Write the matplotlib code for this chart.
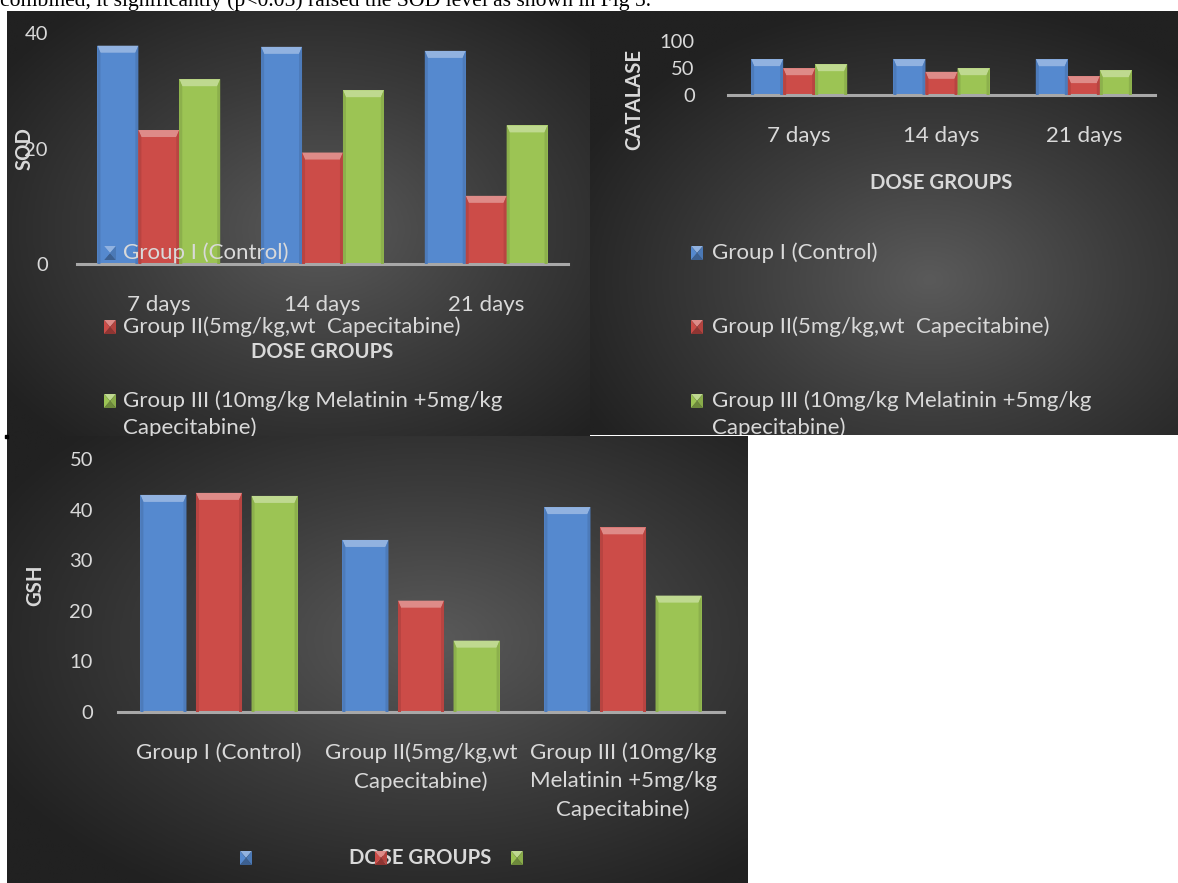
import matplotlib.pyplot as plt
import numpy as np
from matplotlib.patches import Polygon, Rectangle
from matplotlib.colors import LinearSegmentedColormap, to_rgb

W, H = 1178, 883

days = ['7 days', '14 days', '21 days']
legend_labels = ['Group I (Control)',
                 'Group II(5mg/kg,wt  Capecitabine)',
                 'Group III (10mg/kg Melatinin +5mg/kg\nCapecitabine)']
gsh_groups = ['Group I (Control)',
              'Group II(5mg/kg,wt\nCapecitabine)',
              'Group III (10mg/kg\nMelatinin +5mg/kg\nCapecitabine)']

sod_control = [37.8, 37.6, 36.9]
sod_cape = [23.2, 19.3, 11.8]
sod_combo = [32.0, 30.1, 24.0]

cat_control = [66.5, 66.5, 66.3]
cat_cape = [49.7, 42.9, 35.0]
cat_combo = [57.1, 49.7, 46.0]

gsh_blue = [42.9, 34.0, 40.5]
gsh_red = [43.3, 22.0, 36.5]
gsh_green = [42.7, 14.1, 23.0]

colors = ['#5589cf', '#cc4c48', '#9cc454']
txt = '#d9d9d9'
FONT = 'Lato'
FS = 16
BFS = 14.6


def box(x0, y0, x1, y1):
    return [x0 / W, 1 - y1 / H, (x1 - x0) / W, (y1 - y0) / H]


def mix(c, other, f):
    c = np.array(to_rgb(c))
    return tuple(c + (np.array(other) - c) * f)


bg_cmap = LinearSegmentedColormap.from_list('bg', ['#5a5a5a', '#3c3c3c', '#212121'])


def panel(x0, y0, x1, y1, cx, cy):
    ax = fig.add_axes(box(x0, y0, x1, y1))
    xs = np.linspace(x0, x1, 300)
    ys = np.linspace(y0, y1, 300)
    X, Y = np.meshgrid(xs, ys)
    r = np.sqrt(((X - cx) / (x1 - x0)) ** 2 + ((Y - cy) / (y1 - y0)) ** 2) * 1.5
    ax.imshow(np.clip(r, 0, 1), cmap=bg_cmap, vmin=0, vmax=1, aspect='auto',
              extent=(0, 1, 0, 1), interpolation='bilinear')
    ax.set_axis_off()
    return ax


def chart_axes(x0, y0, x1, y1, ymax, yticks, ypad):
    ax = fig.add_axes(box(x0, y0, x1, y1))
    ax.set_facecolor('none')
    ax.set_xlim(-0.5, 2.5)
    ax.set_ylim(0, ymax)
    for s in ['top', 'right', 'left']:
        ax.spines[s].set_visible(False)
    ax.spines['bottom'].set_color('#a8a8a8')
    ax.spines['bottom'].set_linewidth(2.2)
    ax.set_yticks(yticks)
    ax.tick_params(axis='both', length=0, colors=txt, labelsize=14.5)
    ax.tick_params(axis='y', pad=ypad)
    ax.tick_params(axis='x', labelsize=FS, pad=22)
    for lab in ax.get_yticklabels():
        lab.set_family(FONT)
    return ax


def bevel_bars(ax, xpos, vals, color, width):
    ax.bar(xpos, vals, width, color=color, zorder=2)
    bb = ax.get_position()
    px_x = bb.width * W / 3.0
    px_y = bb.height * H / ax.get_ylim()[1]
    dx = 3 / px_x
    dy = 7 / px_y
    light = mix(color, (1, 1, 1), 0.35)
    dark = mix(color, (0, 0, 0), 0.1)
    for x, v in zip(xpos, vals):
        l, r = x - width / 2, x + width / 2
        ax.add_patch(Polygon([(l, v), (r, v), (r - dx, v - dy), (l + dx, v - dy)],
                             closed=True, color=light, lw=0, zorder=3))
        ax.add_patch(Polygon([(l, 0), (l, v), (l + dx, v - dy), (l + dx, 0)],
                             closed=True, color=dark, lw=0, zorder=3))
        ax.add_patch(Polygon([(r, 0), (r, v), (r - dx, v - dy), (r - dx, 0)],
                             closed=True, color=dark, lw=0, zorder=3))


def marker(cx, cy, color, w=12, h=14):
    x0, x1 = (cx - w / 2) / W, (cx + w / 2) / W
    y0, y1 = 1 - (cy + h / 2) / H, 1 - (cy - h / 2) / H
    mx, my = cx / W, 1 - cy / H
    base = to_rgb(color)
    parts = [([(x0, y1), (x1, y1), (mx, my)], mix(color, (1, 1, 1), 0.35)),
             ([(x0, y0), (x1, y0), (mx, my)], mix(color, (0, 0, 0), 0.3)),
             ([(x0, y0), (x0, y1), (mx, my)], base),
             ([(x1, y0), (x1, y1), (mx, my)], mix(color, (0, 0, 0), 0.12))]
    for pts, c in parts:
        fig.add_artist(Polygon(pts, closed=True, color=c, lw=0,
                               transform=fig.transFigure, zorder=6))


def legend_block(bg, mx, tx, rows):
    for lab, y, c in zip(legend_labels, rows, colors):
        marker(mx, y, c)
        for k, line in enumerate(lab.split('\n')):
            t = fig.text(tx / W, 1 - (y + 27 * k) / H, line, color=txt, size=FS,
                         family=FONT, ha='left', va='center', zorder=5)
            t.set_clip_box(bg.bbox)


fig = plt.figure(figsize=(W / 100, H / 100), dpi=100)
fig.patch.set_facecolor('white')

fig.text(0, 1 - 6 / H,
         'combined, it significantly (p<0.05) raised the SOD level as shown in Fig 5.',
         family='Liberation Serif', size=15.6, color='black', va='baseline')

# panel backgrounds
bg_sod = panel(7, 11, 590, 436, 320, 230)
bg_cat = panel(590, 11, 1178, 435, 930, 280)
bg_gsh = panel(7, 436, 748, 883, 430, 640)
fig.add_artist(Rectangle((5 / W, 1 - 438 / H), 3 / W, 3 / H, color='black',
                         transform=fig.transFigure, zorder=7))

x = np.arange(3)

# SOD
ax1 = chart_axes(77, 33, 568, 264, 40, [0, 20, 40], 21)
for vals, c, off in zip([sod_control, sod_cape, sod_combo], colors, [-0.25, 0, 0.25]):
    bevel_bars(ax1, x + off, vals, c, 0.25)
ax1.set_xticks(x, days, family=FONT)
ax1.set_xlabel('DOSE GROUPS', color=txt, size=BFS, weight='bold', family=FONT, va='center')
ax1.xaxis.set_label_coords(0.5, -88 / 231)
ax1.set_ylabel('SOD', color=txt, size=BFS, weight='bold', family=FONT, va='center')
ax1.yaxis.set_label_coords(-52 / 491, 0.5)
legend_block(bg_sod, 110, 123, [253, 327, 401])

# CATALASE
ax2 = chart_axes(728, 41, 1155, 95, 100, [0, 50, 100], 24)
for vals, c, off in zip([cat_control, cat_cape, cat_combo], colors, [-0.225, 0, 0.225]):
    bevel_bars(ax2, x + off, vals, c, 0.225)
ax2.set_xticks(x, days, family=FONT)
ax2.set_xlabel('DOSE GROUPS', color=txt, size=BFS, weight='bold', family=FONT, va='center')
ax2.xaxis.set_label_coords(0.5, -88 / 54)
ax2.set_ylabel('CATALASE', color=txt, size=BFS, weight='bold', family=FONT, va='center')
ax2.yaxis.set_label_coords(-94 / 427, -5 / 54)
legend_block(bg_cat, 697, 712, [253, 327, 401])

# GSH
ax3 = chart_axes(118, 459, 724, 712, 50, [0, 10, 20, 30, 40, 50], 18)
for vals, c, off in zip([gsh_blue, gsh_red, gsh_green], colors, [-0.275, 0, 0.275]):
    bevel_bars(ax3, x + off, vals, c, 0.228)
ax3.set_xticks(x, gsh_groups, family=FONT, linespacing=1.5)
ax3.set_xlabel('DOSE GROUPS', color=txt, size=BFS, weight='bold', family=FONT, va='center')
ax3.xaxis.set_label_coords(302 / 606, -146 / 253)
ax3.set_ylabel('GSH', color=txt, size=BFS, weight='bold', family=FONT, va='center')
ax3.yaxis.set_label_coords(-83 / 606, 0.5)
for mx, c in zip([246, 381, 517], colors):
    marker(mx, 858, c)

fig.savefig('out.png', dpi=100)
